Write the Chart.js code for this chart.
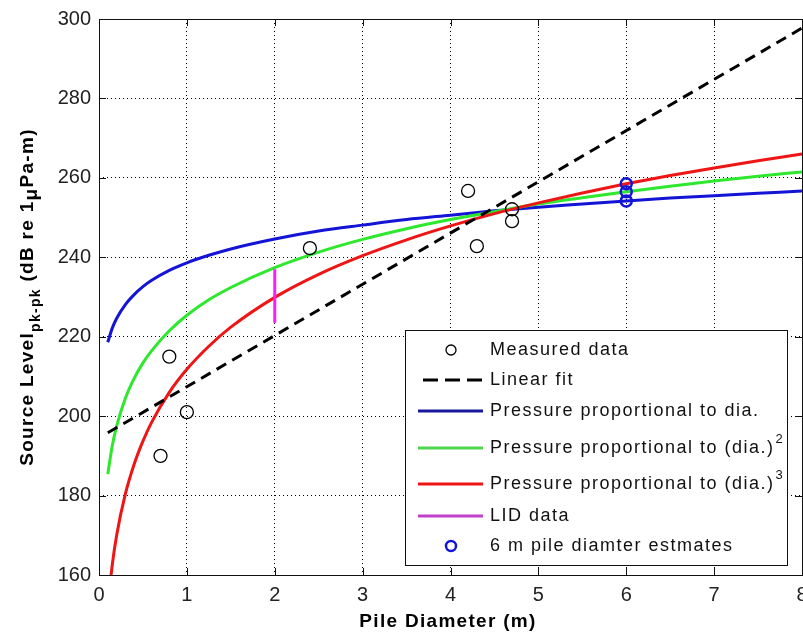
<!DOCTYPE html>
<html>
<head>
<meta charset="utf-8">
<title>Source level vs pile diameter</title>
<script src="https://cdn.jsdelivr.net/npm/chart.js@4/dist/chart.umd.min.js"></script>
<style>
  html, body { margin: 0; padding: 0; background: #fff; }
  canvas { display: block; }
</style>
</head>
<body>
<canvas id="levelChart" width="803" height="633"></canvas>
<script>
// Pile diameters (m) where the model curves are sampled
const diaSamples = [0.1, 0.15, 0.2, 0.3, 0.4, 0.5, 0.6, 0.8, 1, 1.25, 1.5, 2, 2.5, 3, 3.5, 4, 4.5, 5, 5.5, 6, 6.5, 7, 7.5, 8];

// Source level (dB re 1 uPa-m) for the three pressure scaling models
const levelDia = [218.6, 222.1, 224.6, 228.1, 230.6, 232.6, 234.2, 236.7, 238.6, 240.5, 242.1, 244.6, 246.6, 248.1, 249.5, 250.6, 251.7, 252.6, 253.4, 254.2, 254.9, 255.5, 256.1, 256.7];
const levelDiaSq = [185.4, 192.4, 197.4, 204.5, 209.5, 213.4, 216.5, 221.5, 225.4, 229.3, 232.4, 237.4, 241.3, 244.5, 247.2, 249.5, 251.5, 253.4, 255.0, 256.5, 257.9, 259.2, 260.4, 261.5];
const levelDiaCube = [151.8, 162.4, 169.9, 180.4, 187.9, 193.7, 198.5, 206.0, 211.8, 217.6, 222.4, 229.9, 235.7, 240.4, 244.4, 247.9, 251.0, 253.7, 256.2, 258.5, 260.6, 262.5, 264.3, 266.0];

// Measured data points
const measuredDia = [0.7, 0.8, 1.0, 2.4, 4.2, 4.3, 4.7, 4.7];
const measuredLevel = [190, 215, 201, 242.3, 256.7, 242.8, 252.1, 249.1];

// Linear fit end points
const fitDia = [0.1, 8];
const fitLevel = [195.8, 297.7];

// LID data range at 2 m
const lidDia = [2, 2];
const lidLevel = [223.5, 237];

// 6 m pile estimates from each model
const estimateDia = [6, 6, 6];
const estimateLevel = [254.2, 256.5, 258.5];

const legendLabels = ['Measured data', 'Linear fit', 'Pressure proportional to dia.', 'Pressure proportional to (dia.)', 'Pressure proportional to (dia.)', 'LID data', '6 m pile diamter estmates'];
const legendPowers = ['', '', '', '2', '3', '', ''];

const BLUE = '#1414d6';
const GREEN = '#2de82d';
const RED = '#ee1515';
const MAGENTA = '#ff1aff';

function toPoints(xs, ys) {
    return xs.map((x, i) => ({ x: x, y: ys[i] }));
}

// Plot frame plus inward tick marks on all four sides
const frameTicks = {
    id: 'frameTicks',
    afterDatasetsDraw(chart) {
        const { ctx, chartArea: a, scales } = chart;
        ctx.save();
        ctx.strokeStyle = '#111';
        ctx.lineWidth = 1;
        ctx.beginPath();
        scales.x.ticks.forEach(t => {
            const px = Math.round(scales.x.getPixelForValue(t.value)) + 0.5;
            ctx.moveTo(px, a.bottom); ctx.lineTo(px, a.bottom - 7);
            ctx.moveTo(px, a.top); ctx.lineTo(px, a.top + 7);
        });
        scales.y.ticks.forEach(t => {
            const py = Math.round(scales.y.getPixelForValue(t.value)) + 0.5;
            ctx.moveTo(a.left, py); ctx.lineTo(a.left + 7, py);
            ctx.moveTo(a.right, py); ctx.lineTo(a.right - 7, py);
        });
        ctx.stroke();
        ctx.strokeRect(a.left + 0.5, a.top + 0.5, a.right - a.left, a.bottom - a.top);
        ctx.restore();
    }
};

// Draws a run of text pieces; each piece can be shifted off the baseline
function drawPieces(ctx, pieces, x, y) {
    let cx = x;
    pieces.forEach(p => {
        ctx.font = p.font;
        ctx.fillText(p.text, cx, y + (p.dy || 0));
        cx += ctx.measureText(p.text).width;
    });
}

function piecesWidth(ctx, pieces) {
    return pieces.reduce((w, p) => { ctx.font = p.font; return w + ctx.measureText(p.text).width; }, 0);
}

// Axis titles, with the pk-pk subscript on the y title
const axisTitles = {
    id: 'axisTitles',
    afterDraw(chart) {
        const { ctx, chartArea: a } = chart;
        const big = 'bold 19px "Liberation Sans", Arial, sans-serif';
        const small = 'bold 14px "Liberation Sans", Arial, sans-serif';
        ctx.save();
        ctx.fillStyle = '#000';
        ctx.letterSpacing = '1.3px';
        ctx.textBaseline = 'alphabetic';
        ctx.textAlign = 'left';

        const xPieces = [{ text: 'Pile Diameter (m)', font: big }];
        const xw = piecesWidth(ctx, xPieces);
        drawPieces(ctx, xPieces, 448 - xw / 2, 627);

        const yPieces = [
            { text: 'Source Level', font: big },
            { text: 'pk-pk', font: small, dy: 7 },
            { text: ' (dB re 1', font: big },
            { text: '\u03bc', font: big, dy: 4 },
            { text: 'Pa-m)', font: big }
        ];
        const yw = piecesWidth(ctx, yPieces);
        ctx.translate(33, (a.top + a.bottom) / 2);
        ctx.rotate(-Math.PI / 2);
        drawPieces(ctx, yPieces, -yw / 2, 0);
        ctx.restore();
    }
};

// Boxed legend inside the lower right of the plot
const boxLegend = {
    id: 'boxLegend',
    afterDraw(chart) {
        const { ctx } = chart;
        const box = { left: 405, top: 330, right: 787, bottom: 565 };
        const rowY = [350, 380, 411, 448, 484, 516, 546];
        const marks = [
            { kind: 'circle', color: '#000', width: 1.3 },
            { kind: 'dash', color: '#000' },
            { kind: 'line', color: '#18189c' },
            { kind: 'line', color: '#4fd64f' },
            { kind: 'line', color: RED },
            { kind: 'line', color: '#c040cc' },
            { kind: 'circle', color: BLUE, width: 2.5 }
        ];
        ctx.save();
        ctx.fillStyle = '#fff';
        ctx.fillRect(box.left, box.top, box.right - box.left, box.bottom - box.top);
        ctx.strokeStyle = '#111';
        ctx.lineWidth = 1;
        ctx.strokeRect(box.left + 0.5, box.top + 0.5, box.right - box.left, box.bottom - box.top);

        legendLabels.forEach((label, i) => {
            const y = rowY[i];
            const m = marks[i];
            ctx.strokeStyle = m.color;
            ctx.setLineDash([]);
            if (m.kind === 'circle') {
                ctx.lineWidth = m.width;
                ctx.beginPath();
                ctx.arc(451, y, 5, 0, Math.PI * 2);
                ctx.stroke();
            } else {
                ctx.lineWidth = 3;
                if (m.kind === 'dash') ctx.setLineDash([15, 7]);
                ctx.beginPath();
                ctx.moveTo(m.kind === 'dash' ? 423 : 418, y);
                ctx.lineTo(483, y);
                ctx.stroke();
            }
            ctx.setLineDash([]);
            ctx.fillStyle = '#111';
            ctx.letterSpacing = '1.5px';
            ctx.textBaseline = 'middle';
            ctx.textAlign = 'left';
            ctx.font = '18px "Liberation Sans", Arial, sans-serif';
            ctx.fillText(label, 490, y);
            if (legendPowers[i]) {
                const w = ctx.measureText(label).width;
                ctx.font = '13px "Liberation Sans", Arial, sans-serif';
                ctx.fillText(legendPowers[i], 490 + w + 1, y - 9);
            }
        });
        ctx.restore();
    }
};

// Keep the plot box fixed: no extra room reserved for edge tick labels
function noEdgePadding(scale) {
    scale.paddingLeft = 0;
    scale.paddingRight = 0;
    scale.paddingTop = 0;
    scale.paddingBottom = 0;
}

function renderChart() {
    const ctx = document.getElementById('levelChart').getContext('2d');
    const tickFont = { family: '"Liberation Sans", Arial, sans-serif', size: 20 };
    new Chart(ctx, {
        type: 'scatter',
        data: {
            datasets: [
                {
                    label: '6 m pile diamter estmates',
                    data: toPoints(estimateDia, estimateLevel),
                    pointStyle: 'circle', pointRadius: 5.5, pointBorderWidth: 2.5,
                    borderColor: BLUE, backgroundColor: 'transparent', showLine: false
                },
                {
                    label: 'Measured data',
                    data: toPoints(measuredDia, measuredLevel),
                    pointStyle: 'circle', pointRadius: 6.5, pointBorderWidth: 1.3,
                    borderColor: '#000', backgroundColor: 'transparent', showLine: false
                },
                {
                    label: 'LID data',
                    data: toPoints(lidDia, lidLevel),
                    showLine: true, borderColor: MAGENTA, borderWidth: 3, pointRadius: 0
                },
                {
                    label: 'Linear fit',
                    data: toPoints(fitDia, fitLevel),
                    showLine: true, borderColor: '#000', borderWidth: 3, borderDash: [11, 7], pointRadius: 0
                },
                {
                    label: 'Pressure proportional to (dia.)^3',
                    data: toPoints(diaSamples, levelDiaCube),
                    showLine: true, borderColor: RED, borderWidth: 3, pointRadius: 0,
                    cubicInterpolationMode: 'monotone', clip: 0
                },
                {
                    label: 'Pressure proportional to (dia.)^2',
                    data: toPoints(diaSamples, levelDiaSq),
                    showLine: true, borderColor: GREEN, borderWidth: 3, pointRadius: 0,
                    cubicInterpolationMode: 'monotone'
                },
                {
                    label: 'Pressure proportional to dia.',
                    data: toPoints(diaSamples, levelDia),
                    showLine: true, borderColor: BLUE, borderWidth: 3, pointRadius: 0,
                    cubicInterpolationMode: 'monotone'
                }
            ]
        },
        options: {
            responsive: false,
            animation: false,
            layout: { autoPadding: false, padding: { top: 19, right: 1, left: 0, bottom: 0 } },
            plugins: { legend: { display: false }, tooltip: { enabled: false } },
            scales: {
                x: {
                    type: 'linear', min: 0, max: 8,
                    afterFit: scale => { scale.height = 58; noEdgePadding(scale); },
                    ticks: { stepSize: 1, font: tickFont, color: '#222', padding: 8, maxRotation: 0, autoSkip: false },
                    grid: { color: '#000', lineWidth: 1, drawTicks: false },
                    border: { display: false, dash: [1, 3] }
                },
                y: {
                    type: 'linear', min: 160, max: 300,
                    afterFit: scale => { scale.width = 99; noEdgePadding(scale); },
                    ticks: { stepSize: 20, font: tickFont, color: '#222', padding: 8 },
                    grid: { color: '#000', lineWidth: 1, drawTicks: false },
                    border: { display: false, dash: [1, 3] }
                }
            }
        },
        plugins: [frameTicks, axisTitles, boxLegend]
    });
}

document.addEventListener('DOMContentLoaded', renderChart);
</script>
</body>
</html>
